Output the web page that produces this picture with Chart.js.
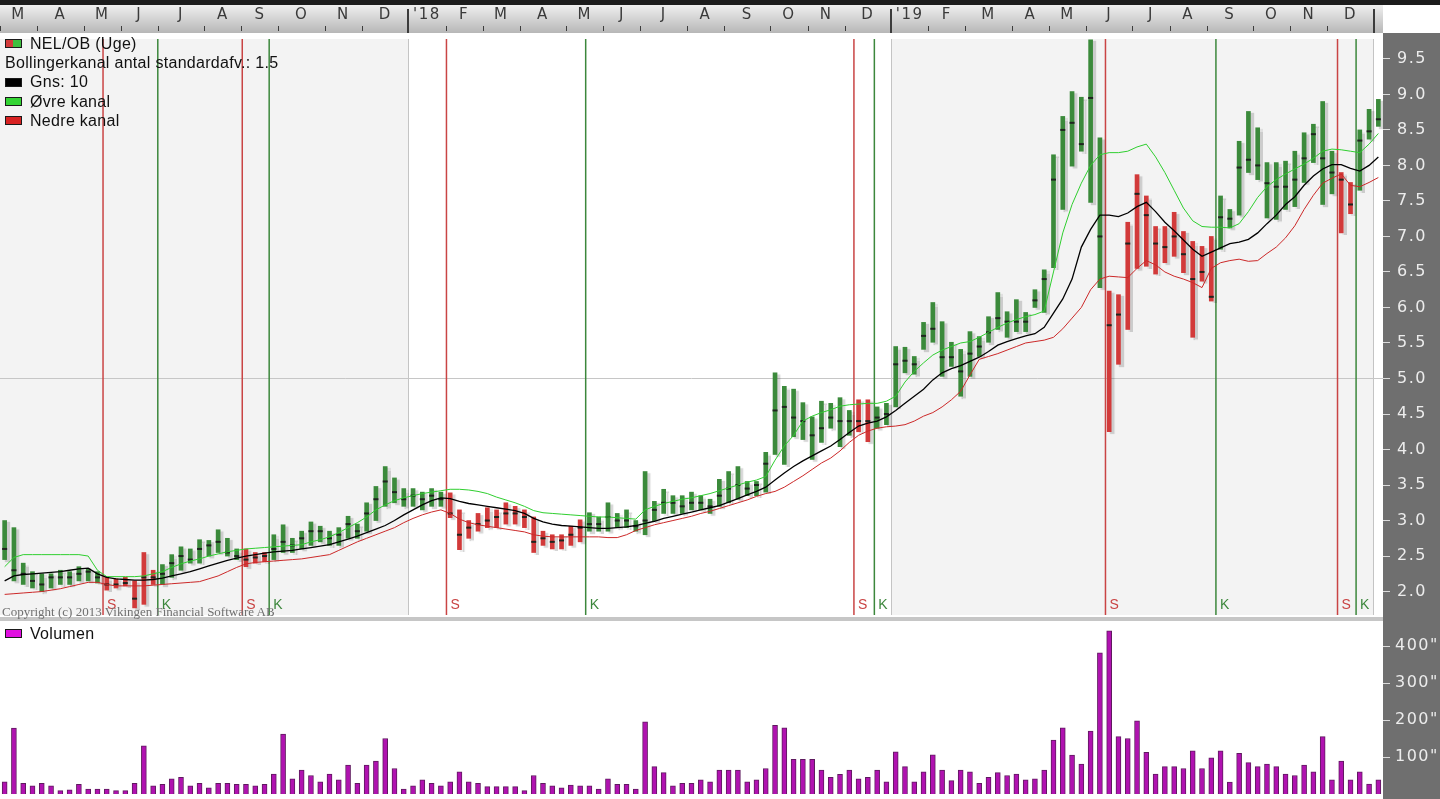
<!DOCTYPE html>
<html>
<head>
<meta charset="utf-8">
<title>NEL/OB (Uge)</title>
<script src="https://cdn.jsdelivr.net/npm/chart.js@4.4.1/dist/chart.umd.min.js"></script>
<style>
  body { margin:0; width:1440px; height:799px; overflow:hidden; position:relative; background:#fff;
         font-family:"Liberation Sans", Arial, sans-serif; }
  canvas { position:absolute; left:0; }
  #priceChart { top:0; }
  #volChart { top:620px; }
  .legend { position:absolute; left:5px; font-size:16px; letter-spacing:0.3px; color:#111; z-index:2; }
  .legend .item { display:flex; align-items:center; height:19.3px; white-space:nowrap; }
  .legend .box { width:17px; height:9px; border:1px solid #1a1a1a; box-sizing:border-box; margin-right:8px; }
  #sep { position:absolute; left:0; top:617px; width:1383px; height:4px; background:#c6c6c6; z-index:2; }
  #copy { position:absolute; left:2px; top:604px; font:13px "Liberation Serif", serif; color:#707070; z-index:2; }
</style>
</head>
<body>
<canvas id="priceChart" width="1440" height="620"></canvas>
<canvas id="volChart" width="1440" height="179"></canvas>
<div id="sep"></div>

<div class="legend" style="top:34px">
  <div class="item"><span class="box" style="background:linear-gradient(to right,#d23a3a 45%,#3fbf3f 45%)"></span>NEL/OB (Uge)</div>
  <div class="item">Bollingerkanal antal standardafv.: 1.5</div>
  <div class="item"><span class="box" style="background:#000"></span>Gns: 10</div>
  <div class="item"><span class="box" style="background:#33d433"></span>Øvre kanal</div>
  <div class="item"><span class="box" style="background:#d82222"></span>Nedre kanal</div>
</div>
<div class="legend" style="top:624px">
  <div class="item"><span class="box" style="background:#e010e0"></span>Volumen</div>
</div>
<div id="copy">Copyright (c) 2013 Vikingen Financial Software AB</div>

<script>
// weekly bars, index 0 = week of 27 Feb 2017
const highs = [
  3.0, 2.9, 2.4, 2.28, 2.25, 2.25, 2.3, 2.28, 2.35, 2.32,
  2.28, 2.2, 2.18, 2.2, 2.15, 2.55, 2.3, 2.38, 2.52, 2.63,
  2.6, 2.73, 2.72, 2.87, 2.75, 2.6, 2.6, 2.55, 2.55, 2.8,
  2.94, 2.75, 2.85, 2.98, 2.92, 2.85, 2.9, 3.06, 2.95, 3.25,
  3.48, 3.76, 3.6, 3.45, 3.45, 3.4, 3.45, 3.4, 3.39, 3.15,
  3.0, 3.1, 3.18, 3.15, 3.25, 3.2, 3.15, 3.05, 2.85, 2.8,
  2.8, 2.92, 3.01, 3.11, 3.05, 3.25, 3.1, 3.15, 3.0, 3.69,
  3.27, 3.44, 3.35, 3.35, 3.4, 3.35, 3.3, 3.58, 3.69, 3.76,
  3.55, 3.55, 3.96, 5.08, 4.89, 4.85, 4.66, 4.46, 4.68, 4.65,
  4.73, 4.55, 4.7, 4.7, 4.6, 4.65, 5.45, 5.44, 5.31, 5.79,
  6.07, 5.8, 5.51, 5.41, 5.66, 5.59, 5.87, 6.21, 5.94, 6.11,
  5.93, 6.25, 6.53, 8.15, 8.69, 9.04, 8.96, 9.77, 8.39, 6.23,
  6.18, 7.2, 7.87, 7.57, 7.14, 7.14, 7.34, 7.07, 6.93, 6.86,
  7.0, 7.57, 7.38, 8.34, 8.76, 8.53, 8.04, 8.04, 8.06, 8.2,
  8.46, 8.58, 8.9, 8.2, 7.9, 7.76, 8.5, 8.79, 8.93
];
const lows = [
  2.45, 2.15, 2.1, 2.05, 2.0, 2.05, 2.1, 2.1, 2.15, 2.15,
  2.12, 2.02, 2.05, 2.08, 1.77, 1.82, 2.1, 2.1, 2.2, 2.3,
  2.4, 2.4, 2.5, 2.55, 2.5, 2.45, 2.35, 2.4, 2.42, 2.45,
  2.55, 2.55, 2.6, 2.65, 2.7, 2.65, 2.65, 2.75, 2.75, 2.85,
  3.0, 3.2, 3.25, 3.2, 3.2, 3.15, 3.2, 3.2, 3.04, 2.59,
  2.75, 2.85, 2.9, 2.9, 2.95, 2.95, 2.9, 2.55, 2.65, 2.6,
  2.6, 2.65, 2.7, 2.85, 2.85, 2.85, 2.9, 2.9, 2.85, 2.8,
  3.0, 3.1, 3.1, 3.1, 3.15, 3.15, 3.1, 3.2, 3.25, 3.3,
  3.35, 3.35, 3.4, 3.93, 3.79, 4.18, 4.14, 3.86, 4.1, 4.3,
  4.04, 4.2, 4.25, 4.11, 4.3, 4.35, 4.6, 5.08, 5.06, 5.41,
  5.51, 5.03, 5.17, 4.75, 5.03, 5.31, 5.51, 5.69, 5.58, 5.66,
  5.66, 6.0, 5.93, 6.56, 7.38, 7.99, 8.2, 7.48, 6.28, 4.25,
  5.2, 5.69, 6.55, 6.58, 6.47, 6.63, 6.72, 6.49, 5.58, 6.37,
  6.09, 6.82, 7.12, 7.3, 7.9, 7.8, 7.26, 7.24, 7.38, 7.42,
  7.76, 8.04, 7.45, 7.6, 7.05, 7.32, 7.65, 8.37, 8.55
];
const closes = [
  2.6, 2.3, 2.25, 2.15, 2.1, 2.2, 2.2, 2.2, 2.25, 2.28,
  2.2, 2.1, 2.1, 2.12, 1.9, 2.2, 2.2, 2.25, 2.4, 2.5,
  2.45, 2.6, 2.65, 2.7, 2.55, 2.5, 2.45, 2.48, 2.5, 2.6,
  2.7, 2.65, 2.75, 2.85, 2.85, 2.75, 2.8, 2.95, 2.85, 3.1,
  3.3, 3.55, 3.4, 3.3, 3.35, 3.3, 3.35, 3.3, 3.1, 2.8,
  2.9, 2.95, 3.0, 3.05, 3.1, 3.1, 3.05, 2.7, 2.75, 2.7,
  2.72, 2.8, 2.9, 2.95, 2.95, 3.05, 3.0, 3.0, 2.92, 3.0,
  3.15, 3.25, 3.25, 3.2, 3.25, 3.25, 3.2, 3.35, 3.45, 3.5,
  3.45, 3.5, 3.8, 4.55, 4.6, 4.45, 4.4, 4.2, 4.3, 4.45,
  4.4, 4.4, 4.4, 4.4, 4.45, 4.5, 5.2, 5.25, 5.2, 5.6,
  5.7, 5.3, 5.3, 5.1, 5.35, 5.45, 5.65, 5.85, 5.8, 5.8,
  5.8, 6.1, 6.4, 7.8, 8.5, 8.6, 8.3, 8.95, 7.0, 5.75,
  5.9, 6.9, 7.6, 7.3, 6.9, 6.85, 7.0, 6.75, 6.4, 6.5,
  6.15, 7.27, 7.25, 7.97, 8.08, 8.0, 7.75, 7.7, 7.7, 7.8,
  8.1, 8.44, 8.1, 7.9, 7.8, 7.45, 8.35, 8.48, 8.65
];
// Gns: 10 and the Bollinger channel
const ma10 = [
  2.15, 2.22, 2.24, 2.25, 2.26, 2.27, 2.28, 2.3, 2.32, 2.33,
  2.25, 2.2, 2.18, 2.17, 2.16, 2.16, 2.17, 2.19, 2.22, 2.25,
  2.28, 2.32, 2.36, 2.4, 2.44, 2.47, 2.5, 2.52, 2.54, 2.56,
  2.57, 2.58, 2.6, 2.62, 2.64, 2.66, 2.7, 2.74, 2.78, 2.83,
  2.88, 2.93, 3.0, 3.08, 3.15, 3.22, 3.28, 3.32, 3.31, 3.27,
  3.24, 3.22, 3.2, 3.18, 3.16, 3.14, 3.1, 3.03, 2.98, 2.95,
  2.93, 2.92, 2.91, 2.9, 2.89, 2.89, 2.9, 2.91, 2.93, 2.96,
  2.99, 3.03, 3.06, 3.09, 3.12, 3.15, 3.18, 3.21, 3.26, 3.31,
  3.36, 3.41, 3.47, 3.57, 3.67, 3.76, 3.84, 3.91, 3.98, 4.05,
  4.14, 4.24, 4.33, 4.37, 4.4, 4.46, 4.55, 4.65, 4.75, 4.85,
  4.98, 5.08, 5.14, 5.18, 5.24, 5.3, 5.38, 5.47, 5.52, 5.56,
  5.6, 5.63, 5.72, 5.92, 6.12, 6.4, 6.85, 7.1, 7.3, 7.3,
  7.28, 7.33, 7.42, 7.48, 7.35, 7.2, 7.08, 6.95, 6.82, 6.72,
  6.78, 6.84, 6.9, 6.92, 6.96, 7.05, 7.18, 7.3, 7.45, 7.56,
  7.72, 7.85, 7.95, 8.01, 8.01, 7.96, 7.92, 8.0, 8.12
];
const upperBand = [
  2.35, 2.48, 2.52, 2.52, 2.52, 2.52, 2.52, 2.52, 2.52, 2.5,
  2.3, 2.21, 2.21, 2.21, 2.21, 2.22, 2.25, 2.28, 2.34, 2.39,
  2.43, 2.46, 2.5, 2.53, 2.56, 2.58, 2.6, 2.61, 2.62, 2.63,
  2.64, 2.65, 2.66, 2.7, 2.73, 2.77, 2.83, 2.9, 2.97, 3.05,
  3.15, 3.22, 3.28, 3.32, 3.35, 3.38, 3.4, 3.42, 3.44, 3.44,
  3.43, 3.41, 3.38, 3.33, 3.29, 3.25, 3.2, 3.14, 3.11, 3.1,
  3.09, 3.08, 3.07, 3.06, 3.05, 3.05, 3.04, 3.03, 3.02, 3.15,
  3.2, 3.24, 3.27, 3.3, 3.32, 3.35, 3.38, 3.42, 3.46, 3.5,
  3.54, 3.57, 3.62, 3.85, 4.05, 4.2, 4.4, 4.47, 4.52, 4.56,
  4.61, 4.63, 4.64, 4.65, 4.65, 4.68, 4.75, 4.95, 5.1, 5.22,
  5.33, 5.4, 5.45, 5.5, 5.52, 5.58, 5.65, 5.72, 5.78, 5.83,
  5.87, 5.9, 5.95, 6.5, 7.05, 7.45, 7.75, 8.0, 8.15, 8.18,
  8.18, 8.2, 8.26, 8.3, 8.12, 7.9, 7.65, 7.4, 7.22, 7.14,
  7.13, 7.13, 7.12, 7.18, 7.35, 7.55, 7.7, 7.8, 7.88, 7.95,
  8.02, 8.1, 8.2, 8.23, 8.22, 8.2, 8.18, 8.3, 8.45
];
const lowerBand = [
  1.96, 1.97, 1.98, 1.99, 2.0, 2.02, 2.04, 2.07, 2.1, 2.13,
  2.13, 2.1, 2.08, 2.08, 2.08, 2.08, 2.09, 2.1, 2.11, 2.12,
  2.13, 2.14, 2.18, 2.22, 2.28, 2.34, 2.39, 2.41, 2.42, 2.43,
  2.44, 2.45, 2.46, 2.48, 2.5, 2.52, 2.58, 2.64, 2.7, 2.75,
  2.8, 2.85, 2.9, 2.97, 3.03, 3.08, 3.12, 3.15, 3.1, 3.02,
  2.97, 2.94, 2.92, 2.9, 2.88, 2.86, 2.84, 2.8, 2.78, 2.77,
  2.77, 2.77, 2.77, 2.77, 2.77, 2.76, 2.76, 2.8, 2.86, 2.9,
  2.94, 2.97, 3.0, 3.03, 3.06, 3.1, 3.13, 3.17, 3.21, 3.25,
  3.29, 3.34, 3.38, 3.41, 3.47, 3.55, 3.63, 3.72, 3.81, 3.88,
  3.98, 4.1, 4.2, 4.26, 4.3, 4.32, 4.33, 4.35, 4.4, 4.47,
  4.52, 4.6, 4.7, 4.82, 5.05, 5.27, 5.31, 5.35, 5.4, 5.45,
  5.5, 5.52, 5.54, 5.58, 5.7, 5.85, 6.0, 6.25, 6.4, 6.44,
  6.43, 6.42, 6.55, 6.66, 6.6, 6.5, 6.44, 6.4, 6.35, 6.28,
  6.55, 6.63, 6.66, 6.68, 6.65, 6.66, 6.76, 6.85, 6.98, 7.15,
  7.38, 7.58, 7.75, 7.82, 7.88, 7.72, 7.7, 7.76, 7.83
];
// volume in thousands
const volume = [
  33, 178, 29, 22, 29, 22, 9, 11, 26, 13,
  13, 13, 9, 9, 29, 130, 22, 26, 41, 45,
  22, 29, 17, 29, 29, 26, 26, 22, 26, 54,
  162, 41, 65, 50, 33, 54, 38, 78, 29, 78,
  89, 150, 69, 13, 22, 38, 29, 22, 33, 60,
  33, 29, 20, 20, 20, 20, 9, 50, 29, 22,
  17, 24, 22, 22, 13, 41, 26, 26, 13, 195,
  74, 58, 22, 29, 29, 38, 33, 65, 65, 65,
  33, 38, 69, 186, 179, 94, 94, 94, 65, 45,
  53, 65, 41, 45, 65, 33, 114, 74, 33, 60,
  106, 65, 36, 65, 60, 29, 45, 58, 50, 54,
  38, 41, 65, 146, 179, 105, 81, 170, 382, 441,
  155, 150, 198, 113, 54, 74, 74, 69, 117, 69,
  98, 117, 32, 110, 85, 74, 81, 74, 54, 50,
  78, 60, 155, 38, 89, 38, 60, 27, 38
];

// signals (week position of the vertical lines)
const sellSignals = [10.6, 25.6, 47.6, 91.5, 118.6, 143.6];
const buySignals = [16.5, 28.5, 62.6, 93.7, 130.5, 145.6];

// month axis
const monthLetters = ['M','A','M','J','J','A','S','O','N','D',"'18",'F','M','A','M','J','J','A','S','O','N','D',
                      "'19",'F','M','A','M','J','J','A','S','O','N','D'];
const monthStarts = [0,4,9,13,17,22,26,30,35,39,44,48,52,56,61,65,69,74,78,83,87,91,
                     96,100,104,109,113,117,122,126,130,135,139,143,148];
const yearStarts = [44, 96, 148];
const priceTicks = [2.0, 2.5, 3.0, 3.5, 4.0, 4.5, 5.0, 5.5, 6.0, 6.5, 7.0, 7.5, 8.0, 8.5, 9.0, 9.5];
const volTicks = [100, 200, 300, 400];

const weekCount = highs.length;
const xMin = -0.5, xMax = weekCount - 0.5;
const GREEN = '#3b8a3b', RED = '#d23a3a';

function isSell(i) {
  let s = -1, b = -1;
  sellSignals.forEach(v => { if (v < i) s = Math.max(s, v); });
  buySignals.forEach(v => { if (v < i) b = Math.max(b, v); });
  return s > b;
}
const pts = arr => arr.map((v, i) => ({ x: i, y: v }));

// wider digit spacing for the axis labels, like the original program
const spacing = {
  id: 'spacing',
  beforeDraw(chart) { chart.ctx.letterSpacing = '1.5px'; },
  afterDraw(chart) { chart.ctx.letterSpacing = '0px'; }
};

const priceFrame = {
  id: 'priceFrame',
  beforeDraw(chart) {
    const { ctx, chartArea: a, scales: { x } } = chart;
    ctx.save();
    ctx.fillStyle = '#1c1c1c';
    ctx.fillRect(0, 0, chart.width, 5);
    const g = ctx.createLinearGradient(0, 5, 0, 33);
    g.addColorStop(0, '#efefef');
    g.addColorStop(1, '#b7b7b7');
    ctx.fillStyle = g;
    ctx.fillRect(0, 5, a.right, 28);
    ctx.fillStyle = '#fff';
    ctx.fillRect(a.right, 5, chart.width - a.right, 28);
    ctx.fillStyle = '#6f6f6f';
    ctx.fillRect(a.right, 33, chart.width - a.right, chart.height - 33);

    // year shading
    const edges = [0, ...yearStarts, weekCount];
    for (let k = 0; k < edges.length - 1; k++) {
      const x0 = x.getPixelForValue(edges[k] - 0.5), x1 = x.getPixelForValue(edges[k + 1] - 0.5);
      ctx.fillStyle = k % 2 === 0 ? '#f3f3f3' : '#ffffff';
      ctx.fillRect(x0, a.top, x1 - x0, a.bottom - a.top);
    }

    // month ticks inside the band
    ctx.fillStyle = '#3c3c3c';
    monthStarts.forEach(s => {
      const px = Math.round(x.getPixelForValue(s - 0.5));
      if (yearStarts.includes(s)) ctx.fillRect(px - 1, 9, 2, 24);
      else ctx.fillRect(px, 26, 1, 5);
    });
    ctx.restore();
  },
  beforeDatasetsDraw(chart) {
    const { ctx, chartArea: a, scales: { x } } = chart;
    ctx.save();
    ctx.font = '14px "Liberation Sans", Arial, sans-serif';
    ctx.textBaseline = 'bottom';
    const draw = (v, color, txt) => {
      const px = x.getPixelForValue(v);
      ctx.strokeStyle = color;
      ctx.lineWidth = 1.5;
      ctx.beginPath();
      ctx.moveTo(px, a.top);
      ctx.lineTo(px, a.bottom);
      ctx.stroke();
      ctx.fillStyle = color;
      ctx.fillText(txt, px + 4, a.bottom - 3);
    };
    sellSignals.forEach(v => draw(v, '#c94444', 'S'));
    buySignals.forEach(v => draw(v, '#3c873c', 'K'));
    ctx.restore();
  },
  beforeDatasetDraw(chart, args) {
    if (args.meta.type !== 'bar') return;
    const ctx = chart.ctx;
    ctx.save();
    ctx.shadowColor = 'rgba(0,0,0,0.16)';
    ctx.shadowOffsetX = 3;
    ctx.shadowOffsetY = 2;
    ctx.shadowBlur = 1;
  },
  afterDatasetDraw(chart, args) {
    if (args.meta.type !== 'bar') return;
    chart.ctx.restore();
  }
};

new Chart(document.getElementById('priceChart'), {
  type: 'bar',
  data: {
    datasets: [
      {
        type: 'bar', label: 'NEL/OB (Uge)',
        data: highs.map((h, i) => ({ x: i, y: [lows[i], h] })),
        backgroundColor: c => isSell(c.dataIndex) ? RED : GREEN,
        barThickness: 4, order: 3
      },
      {
        type: 'line', label: 'Luk', data: pts(closes), showLine: false,
        pointStyle: 'line', pointRadius: 2.5, pointBorderWidth: 2,
        borderColor: '#1e241e', pointBorderColor: '#1e241e', order: 2
      },
      { type: 'line', label: 'Gns: 10', data: pts(ma10), borderColor: '#000', borderWidth: 1.3, pointRadius: 0, order: 1 },
      { type: 'line', label: 'Øvre kanal', data: pts(upperBand), borderColor: '#2fcf2f', borderWidth: 1, pointRadius: 0, order: 1 },
      { type: 'line', label: 'Nedre kanal', data: pts(lowerBand), borderColor: '#cc2828', borderWidth: 1, pointRadius: 0, order: 1 }
    ]
  },
  options: {
    responsive: false, animation: false, events: [],
    layout: { autoPadding: false, padding: { left: 0, right: 0, top: 0, bottom: 5 } },
    plugins: { legend: { display: false }, tooltip: { enabled: false } },
    scales: {
      x: {
        type: 'linear', position: 'top', min: xMin, max: xMax, offset: false,
        border: { display: false },
        grid: {
          offset: false, tickLength: 6,
          color: c => (c.tick && c.tick.year) ? '#c4c4c4' : 'rgba(0,0,0,0)',
          tickColor: 'rgba(0,0,0,0)'
        },
        ticks: {
          autoSkip: false, maxRotation: 0, minRotation: 0, padding: 9,
          color: '#3a3a3a', font: { family: 'DejaVu Sans', size: 15 },
          callback: (v, i, ticks) => ticks[i].kind === 'label' ? ticks[i].text : ''
        },
        afterBuildTicks: scale => {
          const t = [];
          monthStarts.forEach((s, m) => {
            t.push({ value: s - 0.5, kind: 'tick', year: yearStarts.includes(s) });
            if (m < monthLetters.length) {
              t.push({ value: (s + monthStarts[m + 1]) / 2 - 0.5, kind: 'label', text: monthLetters[m] });
            }
          });
          t.sort((a, b) => a.value - b.value);
          scale.ticks = t;
        },
        afterFit: scale => { scale.height = 39; scale.paddingLeft = 0; scale.paddingRight = 0; }
      },
      y: {
        type: 'linear', position: 'right', min: 1.67, max: 9.78,
        border: { display: false },
        grid: {
          tickLength: 7, tickColor: '#dcdcdc',
          color: c => (c.tick && c.tick.value === 5) ? '#c6c6c6' : 'rgba(0,0,0,0)'
        },
        ticks: {
          padding: 7, color: '#ececec', font: { family: 'DejaVu Sans', size: 16 },
          callback: v => v.toFixed(1)
        },
        afterBuildTicks: scale => { scale.ticks = priceTicks.map(v => ({ value: v })); },
        afterFit: scale => { scale.width = 57; scale.paddingTop = 0; scale.paddingBottom = 0; }
      }
    }
  },
  plugins: [priceFrame, spacing]
});

const volFrame = {
  id: 'volFrame',
  beforeDraw(chart) {
    const { ctx, chartArea: a } = chart;
    ctx.save();
    ctx.fillStyle = '#6f6f6f';
    ctx.fillRect(a.right, 0, chart.width - a.right, chart.height);
    ctx.restore();
  }
};

new Chart(document.getElementById('volChart'), {
  type: 'bar',
  data: {
    datasets: [{
      label: 'Volumen', data: pts(volume),
      backgroundColor: '#b012b0', borderColor: '#5f1a5f', borderWidth: 1, barThickness: 5
    }]
  },
  options: {
    responsive: false, animation: false, events: [],
    layout: { autoPadding: false, padding: { left: 0, right: 0, top: 5, bottom: 5 } },
    plugins: { legend: { display: false }, tooltip: { enabled: false } },
    scales: {
      x: { type: 'linear', min: xMin, max: xMax, offset: false, display: false },
      y: {
        type: 'linear', position: 'right', min: 0, max: 457,
        border: { display: false },
        grid: { drawOnChartArea: false, tickLength: 7, tickColor: '#dcdcdc' },
        ticks: {
          padding: 5, color: '#ececec', font: { family: 'DejaVu Sans', size: 16 },
          callback: v => v + '"'
        },
        afterBuildTicks: scale => { scale.ticks = volTicks.map(v => ({ value: v })); },
        afterFit: scale => { scale.width = 57; scale.paddingTop = 0; scale.paddingBottom = 0; }
      }
    }
  },
  plugins: [volFrame, spacing]
});
</script>
</body>
</html>
